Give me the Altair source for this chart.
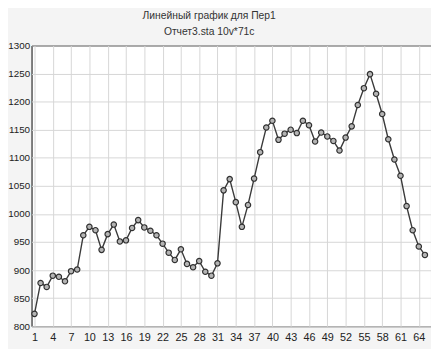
import altair as alt
import pandas as pd

case_no = list(range(1, 66))
values = [822, 877, 870, 890, 888, 880, 898, 901, 962, 977,
          971, 936, 964, 981, 951, 953, 975, 989, 976, 970,
          962, 947, 931, 918, 937, 911, 905, 916, 897, 890,
          912, 1042, 1062, 1021, 977, 1016, 1063, 1110, 1154, 1166,
          1132, 1143, 1150, 1144, 1166, 1158, 1129, 1145, 1138, 1130,
          1113, 1136, 1156, 1194, 1224, 1249, 1214, 1178, 1133, 1097,
          1068, 1014, 971, 942, 927]
x_ticks = list(range(1, 65, 3))
y_ticks = list(range(800, 1301, 50))
title_lines = ["Линейный график для Пер1", "Отчет3.sta 10v*71c"]

df = pd.DataFrame({"n": case_no, "v": values})

FONT = "Liberation Sans"

x_enc = alt.X("n:Q", scale=alt.Scale(domain=[0.52, 66], nice=False, zero=False),
              axis=alt.Axis(values=x_ticks, title=None, labelPadding=6, format="d",
                            labelFontSize=11, labelOverlap=False))
y_enc = alt.Y("v:Q", scale=alt.Scale(domain=[800, 1300], nice=False, zero=False),
              axis=alt.Axis(values=y_ticks, title=None, labelPadding=2, format="d",
                            labelFontSize=10, labelOverlap=False))

base = alt.Chart(df).encode(x=x_enc, y=y_enc)
line = base.mark_line(color="#3a3a3a", strokeWidth=1.4)
pts = base.mark_point(shape="circle", filled=False, size=30, fill="#b4b4b4",
                      stroke="#303030", strokeWidth=1.2, opacity=1)

t1 = alt.Chart(pd.DataFrame({"t": [title_lines[0]]})).mark_text(
    font=FONT, fontSize=10.5, color="#333", align="center", baseline="middle").encode(
    x=alt.value(181), y=alt.value(-30), text="t:N")
t2 = alt.Chart(pd.DataFrame({"t": [title_lines[1]]})).mark_text(
    font=FONT, fontSize=10.5, color="#333", align="center", baseline="middle").encode(
    x=alt.value(181), y=alt.value(-14), text="t:N")

chart = alt.layer(line, pts, t1, t2).properties(
    width=407, height=286,
    autosize=alt.AutoSizeParams(type="none"),
    padding={"left": 24, "top": 35, "right": 0, "bottom": 20},
    background="#f4f4f4",
).configure_view(fill="white", stroke="#000", strokeWidth=1).configure_axis(
    grid=True, gridColor="#d6d6d6", gridWidth=1, domain=False, ticks=False,
    labelFont=FONT, labelColor="#222", labelFlush=False, labelOverlap=False,
    labelBound=False
)

chart.save("out.html", embed_options={"renderer": "svg", "actions": False})
